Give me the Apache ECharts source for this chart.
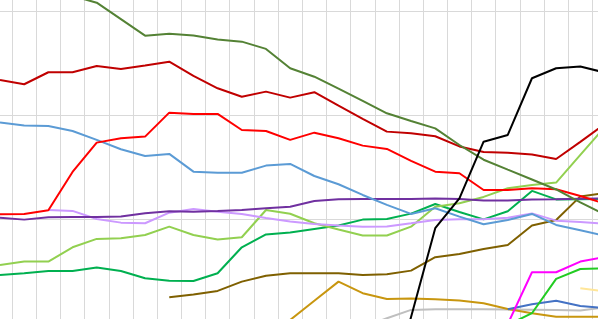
<!DOCTYPE html>
<html>
<head>
<meta charset="utf-8">
<script src="https://cdn.jsdelivr.net/npm/echarts@6/dist/echarts.min.js"></script>
<style>html,body{margin:0;padding:0;background:#fff;}#c{width:598px;height:319px;}</style>
</head>
<body>
<div id="c"></div>
<script>
var categories = ['1','2','3','4','5','6','7','8','9','10','11','12','13','14','15','16','17','18','19','20','21','22','23','24','25','26'];
var yTicks = [-10, 0, 10, 20, 30, 40];
var _ = null;
var darkGreen = [_,_,_,31.52,30.87,29.28,27.69,27.88,27.71,27.32,27.11,26.41,24.54,23.73,22.57,21.40,20.20,19.46,18.74,17.14,15.72,14.76,13.81,12.85,11.60,10.44];
var darkRed = [23.42,23.00,24.16,24.16,24.77,24.48,24.80,25.18,23.80,22.61,21.80,22.29,21.71,22.23,20.93,19.67,18.43,18.28,17.98,17.00,16.47,16.40,16.23,15.79,17.44,19.14];
var red = [10.46,10.49,10.84,14.54,17.37,17.79,17.95,20.26,20.14,20.14,18.59,18.49,17.63,18.33,17.79,17.08,16.76,15.60,14.57,14.41,12.80,12.80,12.97,12.87,12.22,11.50];
var steelBlue = [19.30,19.01,18.98,18.49,17.63,16.73,16.08,16.28,14.57,14.47,14.47,15.15,15.31,14.15,13.35,12.32,11.36,10.49,11.04,10.23,9.49,9.91,10.49,9.43,8.91,8.39];
var purple = [10.13,9.94,10.17,10.20,10.20,10.25,10.55,10.75,10.71,10.78,10.87,11.04,11.19,11.74,11.91,11.93,11.93,11.93,11.98,11.93,11.79,11.79,11.87,11.91,11.96,12.00];
var lilac = [_,_,10.87,10.78,10.00,9.65,9.59,10.61,10.97,10.71,10.49,10.10,9.76,9.52,9.38,9.26,9.28,9.59,9.91,9.98,9.98,10.13,10.54,9.84,9.70,9.54];
var lightGreen = [5.57,5.89,5.89,7.27,8.08,8.14,8.46,9.26,8.46,8.03,8.24,10.87,10.51,9.59,8.99,8.41,8.41,9.26,11.19,11.52,12.13,12.97,13.29,13.51,16.18,18.83];
var medGreen = [4.60,4.77,4.99,4.99,5.31,4.99,4.28,4.05,4.02,4.77,7.27,8.51,8.70,9.04,9.38,9.94,10.00,10.52,11.45,10.68,9.96,10.75,12.71,11.89,11.91,11.93];
var brown = [_,_,_,_,_,_,_,2.45,2.72,3.06,3.96,4.53,4.77,4.77,4.77,4.60,4.67,5.02,6.31,6.63,7.11,7.50,9.38,9.91,12.18,12.51];
var gold = [_,_,_,_,_,_,_,_,_,_,_,_,0.26,2.11,3.96,2.84,2.29,2.33,2.26,2.14,1.87,1.32,0.91,0.58,0.58,0.58];
var black = [_,_,_,_,_,_,_,_,_,_,_,_,_,_,_,_,-8.04,0.55,9.11,12.00,17.46,18.11,23.58,24.54,24.72,24.13];
var gray = [_,_,_,_,_,_,_,_,_,_,_,_,_,_,_,-0.41,0.42,1.23,1.29,1.29,1.29,1.27,1.25,1.23,1.18,1.47];
var royalBlue = [_,_,_,_,_,_,_,_,_,_,_,_,_,_,_,_,_,_,_,_,_,1.29,1.78,2.12,1.61,1.42];
var magenta = [_,_,_,_,_,_,_,_,_,_,_,_,_,_,_,_,_,_,_,_,_,-0.13,4.86,4.86,5.89,6.34];
var brightGreen = [_,_,_,_,_,_,_,_,_,_,_,_,_,_,_,_,_,_,_,_,_,-0.22,0.91,4.22,5.18,5.25];
var paleYellow = [_,_,_,_,_,_,_,_,_,_,_,_,_,_,_,_,_,_,_,_,_,_,_,_,3.32,3.01];

var seriesDefs = [
  ['gray', gray, '#BFBFBF'],
  ['gold', gold, '#C8960F'],
  ['paleYellow', paleYellow, '#FFE699'],
  ['royalBlue', royalBlue, '#4472C4'],
  ['brightGreen', brightGreen, '#22CC22'],
  ['magenta', magenta, '#FF00FF'],
  ['brown', brown, '#7F6000'],
  ['medGreen', medGreen, '#00B050'],
  ['lightGreen', lightGreen, '#92D050'],
  ['lilac', lilac, '#CC99FF'],
  ['purple', purple, '#7030A0'],
  ['steelBlue', steelBlue, '#5B9BD5'],
  ['red', red, '#FF0000'],
  ['darkRed', darkRed, '#C00000'],
  ['darkGreen', darkGreen, '#548235'],
  ['black', black, '#000000']
];

var chart = echarts.init(document.getElementById('c'), null, {renderer: 'canvas'});
var band = 24.18;
chart.setOption({
  animation: false,
  backgroundColor: '#ffffff',
  grid: {
    left: -band / 2, top: 11.7 - 103.65 * 1,
    width: band * categories.length, height: 103.65 * (yTicks.length - 1),
    containLabel: false, outerBoundsMode: 'none'
  },
  xAxis: {
    type: 'category', data: categories, boundaryGap: true,
    axisLine: {show: false}, axisTick: {show: false, interval: 0},
    axisLabel: {show: false, interval: 0},
    splitLine: {show: true, interval: 0, lineStyle: {color: '#D9D9D9', width: 1}}
  },
  yAxis: {
    type: 'value', min: yTicks[0], max: yTicks[yTicks.length - 1], interval: 10,
    axisLine: {show: false}, axisTick: {show: false}, axisLabel: {show: false},
    splitLine: {show: true, lineStyle: {color: '#D9D9D9', width: 1}}
  },
  series: seriesDefs.map(function (d) {
    return {
      name: d[0], type: 'line', data: d[1], symbol: 'none', connectNulls: false,
      lineStyle: {color: d[2], width: 2}, itemStyle: {color: d[2]},
      clip: false, silent: true
    };
  })
});
</script>
</body>
</html>
